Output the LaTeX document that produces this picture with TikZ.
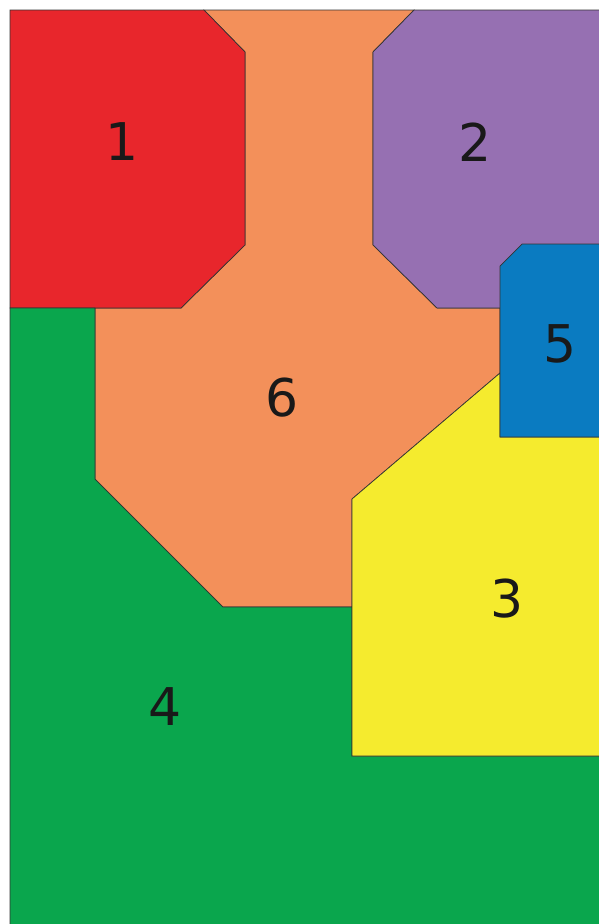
\documentclass[tikz,border=0pt]{standalone}
\usepackage{fontspec}
\setmainfont{DejaVu Sans}
\definecolor{zoneRed}{HTML}{E8262C}
\definecolor{zoneOrange}{HTML}{F3905A}
\definecolor{zonePurple}{HTML}{9670B2}
\definecolor{zoneBlue}{HTML}{0A7BC1}
\definecolor{zoneYellow}{HTML}{F5EB2E}
\definecolor{zoneGreen}{HTML}{0AA64D}
\tikzset{
  zone/.style={draw=black!80, line width=0.7pt, line join=miter},
  zonelabel/.style={text=black!90, font=\fontsize{52}{52}\selectfont}
}
\begin{document}
\begin{tikzpicture}[x=1pt,y=-1pt]
\useasboundingbox (0,0) rectangle (598,924);
\fill[white] (0,0) rectangle (598,924);

% Zone 6 (centre)
\draw[zone, fill=zoneOrange] (204,10) -- (414,10) -- (373,52) -- (373,245) -- (437,308)
  -- (500,308) -- (500,373) -- (352,499) -- (352,607) -- (223,607) -- (95,479)
  -- (95,308) -- (181,308) -- (245,245) -- (245,52) -- cycle;

% Zone 1
\draw[zone, fill=zoneRed] (10,10) -- (204,10) -- (245,52) -- (245,245) -- (181,308)
  -- (10,308) -- cycle;

% Zone 2
\draw[zone, fill=zonePurple] (414,10) -- (600,10) -- (600,308) -- (437,308)
  -- (373,245) -- (373,52) -- cycle;

% Zone 4
\draw[zone, fill=zoneGreen] (10,308) -- (95,308) -- (95,479) -- (223,607) -- (352,607)
  -- (352,756) -- (600,756) -- (600,926) -- (10,926) -- cycle;

% Zone 3
\draw[zone, fill=zoneYellow] (500,373) -- (352,499) -- (352,756) -- (600,756)
  -- (600,437) -- (500,437) -- cycle;

% Zone 5
\draw[zone, fill=zoneBlue] (522,244) -- (600,244) -- (600,437) -- (500,437)
  -- (500,266) -- cycle;

% Labels
\node[zonelabel] (z1) at (122,142) {1};
\node[zonelabel] (z2) at (475,142) {2};
\node[zonelabel] (z3) at (507,599) {3};
\node[zonelabel] (z4) at (165,707) {4};
\node[zonelabel] (z5) at (560,344) {5};
\node[zonelabel] (z6) at (282,398) {6};
\end{tikzpicture}
\end{document}
